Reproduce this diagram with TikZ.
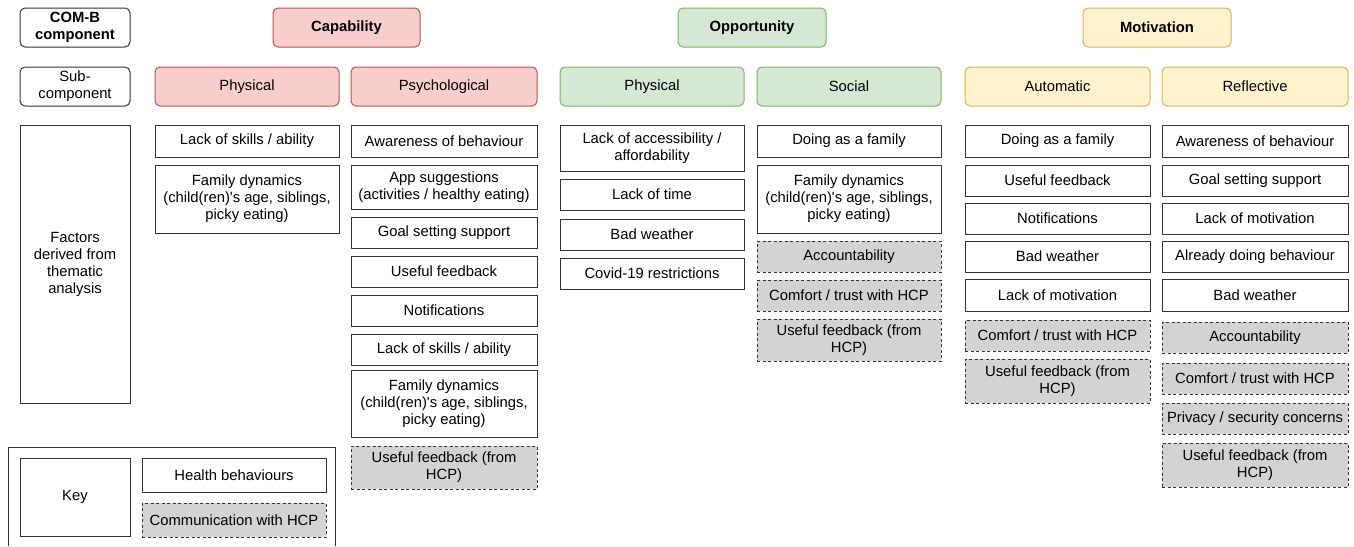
\documentclass[tikz,border=0pt]{standalone}
\usepackage{fontspec}
\setmainfont{Liberation Sans}
\definecolor{capfill}{HTML}{F8CECC}
\definecolor{capline}{HTML}{B85450}
\definecolor{oppfill}{HTML}{D5E8D4}
\definecolor{oppline}{HTML}{82B366}
\definecolor{motfill}{HTML}{FFF2CC}
\definecolor{motline}{HTML}{D6B656}
\definecolor{hcpfill}{HTML}{D3D3D3}

\begin{document}
\begin{tikzpicture}[x=1pt, y=-1pt,
    every node/.style={font=\fontsize{14.8}{17}\selectfont, align=center, inner sep=0pt},
    head/.style={draw=black!80, line width=1pt, rounded corners=5pt, minimum height=39pt},
    capbox/.style={head, fill=capfill, draw=capline},
    oppbox/.style={head, fill=oppfill, draw=oppline},
    motbox/.style={head, fill=motfill, draw=motline},
    factor/.style={draw=black!80, line width=1pt, fill=white},
    hcp/.style={factor, dash pattern=on 3pt off 2.5pt, fill=hcpfill}]
  \useasboundingbox (0,0) rectangle (1354,546);

  % row labels
  \node[head, minimum width=110pt, font=\fontsize{14.8}{17}\bfseries] (comb) at (75,27.5) {COM-B\\component};
  \node[head, minimum width=110pt] (sub) at (75,86.5) {Sub-\\component};
  \node[factor, minimum width=110pt, minimum height=278pt] (fact) at (75,264) {Factors\\derived from\\thematic\\analysis};

  % COM-B components
  \node[capbox, minimum width=147pt, font=\fontsize{14.8}{17}\bfseries] (cap) at (346.5,27.5) {Capability};
  \node[oppbox, minimum width=148pt, font=\fontsize{14.8}{17}\bfseries] (opp) at (752,27.5) {Opportunity};
  \node[motbox, minimum width=148pt, font=\fontsize{14.8}{17}\bfseries] (mot) at (1157,27.5) {Motivation};

  % sub-components
  \node[capbox, minimum width=184pt] (capphy) at (247,86.5) {Physical};
  \node[capbox, minimum width=186pt] (cappsy) at (444,86.5) {Psychological};
  \node[oppbox, minimum width=184pt] (oppphy) at (652,86.5) {Physical};
  \node[oppbox, minimum width=184pt] (oppsoc) at (849,86.5) {Social};
  \node[motbox, minimum width=185pt] (motaut) at (1057.5,86.5) {Automatic};
  \node[motbox, minimum width=186pt] (motref) at (1255,86.5) {Reflective};

  % capability - physical
  \begin{scope}[every node/.append style={minimum width=184pt}]
    \node[factor, minimum height=32pt] (cp1) at (247,141) {Lack of skills / ability};
    \node[factor, minimum height=68pt] (cp2) at (247,199) {Family dynamics\\(child(ren)\textquotesingle s age, siblings,\\picky eating)};
  \end{scope}

  % capability - psychological
  \begin{scope}[every node/.append style={minimum width=186pt}]
    \node[factor, minimum height=32pt] (cs1) at (444,141) {Awareness of behaviour};
    \node[factor, minimum height=44pt] (cs2) at (444,187) {App suggestions\\(activities / healthy eating)};
    \node[factor, minimum height=31pt] (cs3) at (444,232.5) {Goal setting support};
    \node[factor, minimum height=31pt] (cs4) at (444,271.5) {Useful feedback};
    \node[factor, minimum height=31pt] (cs5) at (444,310.5) {Notifications};
    \node[factor, minimum height=31pt] (cs6) at (444,349.5) {Lack of skills / ability};
    \node[factor, minimum height=67pt] (cs7) at (444,403.5) {Family dynamics\\(child(ren)\textquotesingle s age, siblings,\\picky eating)};
    \node[hcp, minimum height=43pt] (cs8) at (444,467.5) {Useful feedback (from\\HCP)};
  \end{scope}

  % opportunity - physical
  \begin{scope}[every node/.append style={minimum width=184pt}]
    \node[factor, minimum height=46pt] (op1) at (652,148) {Lack of accessibility /\\affordability};
    \node[factor, minimum height=31pt] (op2) at (652,194.5) {Lack of time};
    \node[factor, minimum height=31pt] (op3) at (652,234.5) {Bad weather};
    \node[factor, minimum height=31pt] (op4) at (652,273.5) {Covid-19 restrictions};
  \end{scope}

  % opportunity - social
  \begin{scope}[every node/.append style={minimum width=184pt}]
    \node[factor, minimum height=32pt] (os1) at (849,141) {Doing as a family};
    \node[factor, minimum height=68pt] (os2) at (849,199) {Family dynamics\\(child(ren)\textquotesingle s age, siblings,\\picky eating)};
    \node[hcp, minimum height=31pt] (os3) at (849,256.5) {Accountability};
    \node[hcp, minimum height=31pt] (os4) at (849,295.5) {Comfort / trust with HCP};
    \node[hcp, minimum height=42pt] (os5) at (849,340) {Useful feedback (from\\HCP)};
  \end{scope}

  % motivation - automatic
  \begin{scope}[every node/.append style={minimum width=185pt}]
    \node[factor, minimum height=32pt] (ma1) at (1057.5,141) {Doing as a family};
    \node[factor, minimum height=31pt] (ma2) at (1057.5,180.5) {Useful feedback};
    \node[factor, minimum height=31pt] (ma3) at (1057.5,218.5) {Notifications};
    \node[factor, minimum height=31pt] (ma4) at (1057.5,256.5) {Bad weather};
    \node[factor, minimum height=32pt] (ma5) at (1057.5,295) {Lack of motivation};
    \node[hcp, minimum height=31pt] (ma6) at (1057.5,335.5) {Comfort / trust with HCP};
    \node[hcp, minimum height=44pt] (ma7) at (1057.5,381) {Useful feedback (from\\HCP)};
  \end{scope}

  % motivation - reflective
  \begin{scope}[every node/.append style={minimum width=186pt}]
    \node[factor, minimum height=32pt] (mr1) at (1255,141) {Awareness of behaviour};
    \node[factor, minimum height=31pt] (mr2) at (1255,180.5) {Goal setting support};
    \node[factor, minimum height=31pt] (mr3) at (1255,218.5) {Lack of motivation};
    \node[factor, minimum height=31pt] (mr4) at (1255,256.5) {Already doing behaviour};
    \node[factor, minimum height=32pt] (mr5) at (1255,295) {Bad weather};
    \node[hcp, minimum height=31pt] (mr6) at (1255,337.5) {Accountability};
    \node[hcp, minimum height=31pt] (mr7) at (1255,378.5) {Comfort / trust with HCP};
    \node[hcp, minimum height=31pt] (mr8) at (1255,418.5) {Privacy / security concerns};
    \node[hcp, minimum height=44pt] (mr9) at (1255,465) {Useful feedback (from\\HCP)};
  \end{scope}

  % key
  \draw[black!80, line width=1pt] (8,546) -- (8,447) -- (335,447) -- (335,546);
  \node[factor, minimum width=110pt, minimum height=78pt] (key) at (75,497) {Key};
  \node[factor, minimum width=184pt, minimum height=34pt] (keyhb) at (234,475) {Health behaviours};
  \node[hcp, minimum width=184pt, minimum height=34pt] (keyhcp) at (234,520) {Communication with HCP};
\end{tikzpicture}
\end{document}
